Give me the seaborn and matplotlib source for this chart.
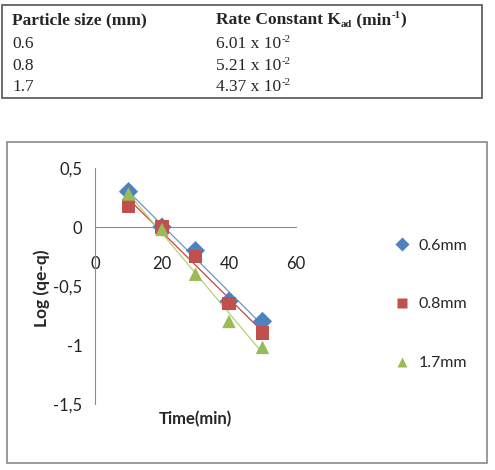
import numpy as np
import pandas as pd
import matplotlib
matplotlib.use("Agg")
import matplotlib.pyplot as plt
import seaborn as sns
from matplotlib.patches import Rectangle

# table values
header_size = "Particle size (mm)"
header_rate = ["Rate Constant K", "ad", " (min", "-1", ")"]
particle_sizes = ["0.6", "0.8", "1.7"]
rate_mantissa = ["6.01 x 10", "5.21 x 10", "4.37 x 10"]
rate_exponent = "-2"

# chart values
time_min = [10, 20, 30, 40, 50]
log_06 = [0.30, 0.00, -0.20, -0.63, -0.80]
log_08 = [0.18, 0.00, -0.25, -0.65, -0.90]
log_17 = [0.28, -0.02, -0.40, -0.80, -1.02]
series_names = ["0.6mm", "0.8mm", "1.7mm"]
x_ticks = [0, 20, 40, 60]
y_ticks = [0.5, 0, -0.5, -1, -1.5]
y_tick_labels = ["0,5", "0", "-0,5", "-1", "-1,5"]

colors = ["#4F81BD", "#C0504D", "#9BBB59"]
line_colors = ["#5B9BD5", "#D0403A", "#B5D27A"]
markers = ["D", "s", "^"]

df = pd.DataFrame({
    "time": time_min * 3,
    "log": log_06 + log_08 + log_17,
    "size": [s for s in series_names for _ in time_min],
})

sns.set_style("white")
plt.rcParams["font.family"] = ["Lato", "DejaVu Sans"]

fig = plt.figure(figsize=(4.95, 4.7), dpi=100)
renderer = fig.canvas.get_renderer()

# table at the top
fig.patches.append(Rectangle((2 / 495, 1 - 98 / 470), 480 / 495, 93 / 470,
                             transform=fig.transFigure, fill=False,
                             edgecolor="#555555", lw=1.2))
serif = ["Liberation Serif", "DejaVu Serif"]
fs = 12.5


def place_chain(x_px, base_px, parts, weight="normal"):
    """Write pieces side by side; 'ad' as subscript, '-n' as superscript."""
    x = x_px
    for p in parts:
        small = p == "ad" or p.startswith("-")
        dy = -3 if p == "ad" else (6 if p.startswith("-") else 0)
        t = fig.text(x / 495, 1 - (base_px - dy) / 470, p, family=serif,
                     weight=weight, fontsize=fs * 0.62 if small else fs,
                     va="baseline")
        x += t.get_window_extent(renderer).width


place_chain(12, 24, [header_size], weight="bold")
place_chain(216, 24, header_rate, weight="bold")
for i, (p, k) in enumerate(zip(particle_sizes, rate_mantissa)):
    base = 48 + 21.5 * i
    place_chain(12, base, [p])
    place_chain(216, base, [k, rate_exponent])

# chart box
fig.patches.append(Rectangle((7 / 495, 1 - 463 / 470), 480 / 495, 321 / 470,
                             transform=fig.transFigure, fill=False,
                             edgecolor="#8a8a8a", lw=1.2))

ax = fig.add_axes([95 / 495, 66 / 470, 201 / 495, 236 / 470])

# linear trend lines
for name, lc in zip(series_names, line_colors):
    sub = df[df["size"] == name]
    sns.regplot(data=sub, x="time", y="log", ax=ax, scatter=False, ci=None,
                color=lc, line_kws={"lw": 0.9}, truncate=True)

sns.scatterplot(data=df, x="time", y="log", hue="size", style="size",
                palette=colors, markers=markers, s=95, edgecolor="none",
                ax=ax, zorder=3)

ax.set_xlim(0, 60)
ax.set_ylim(-1.5, 0.5)
ax.set_xticks(x_ticks)
ax.set_yticks(y_ticks)
ax.set_yticklabels(y_tick_labels)
ax.set_xlabel("")
ax.set_ylabel("")

for s in ["top", "right"]:
    ax.spines[s].set_visible(False)
ax.spines["bottom"].set_position(("data", 0))
ax.spines["bottom"].set_color("#8c8c8c")
ax.spines["left"].set_color("#8c8c8c")
ax.tick_params(axis="x", direction="out", length=5, color="#8c8c8c",
               pad=16, labelsize=12, labelcolor="#222222")
ax.tick_params(axis="y", direction="out", length=5, color="#8c8c8c",
               pad=4, labelsize=12, labelcolor="#222222")

fig.text(195 / 495, 1 - 419 / 470, "Time(min)", weight="bold", fontsize=12,
         ha="center", va="center")
fig.text(42 / 495, 1 - 288 / 470, "Log (qe-q)", weight="bold", fontsize=12.5,
         ha="center", va="center", rotation=90)

handles, labels = ax.get_legend_handles_labels()
ax.get_legend().remove()
fig.legend(handles, labels, loc="upper left",
           bbox_to_anchor=(380 / 495, 1 - 224 / 470), frameon=False,
           fontsize=11.5, labelspacing=2.8, handletextpad=0.5,
           handlelength=1.0, markerscale=0.7)

fig.savefig("out.png", dpi=100)
